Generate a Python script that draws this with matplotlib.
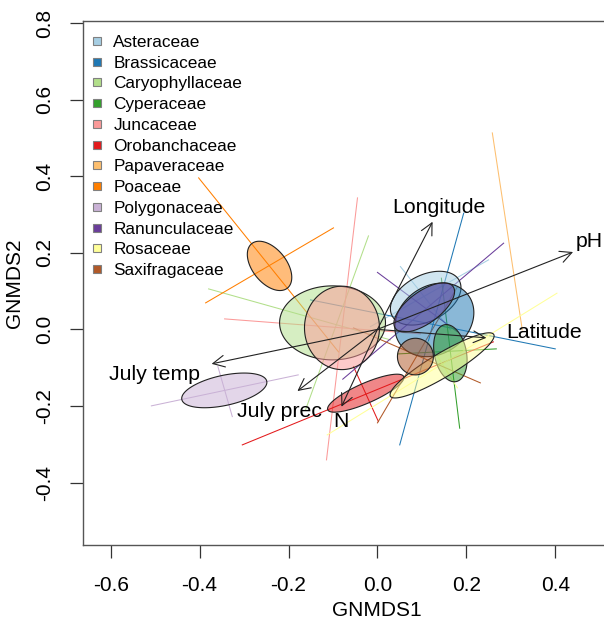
import numpy as np
import matplotlib
matplotlib.use("Agg")
import matplotlib.pyplot as plt
from matplotlib.lines import Line2D
from matplotlib.patches import Polygon
from matplotlib.colors import to_rgba

plt.rcParams['font.family'] = ['Liberation Sans', 'DejaVu Sans']

# ---------------- data ----------------
families = ["Asteraceae", "Brassicaceae", "Caryophyllaceae", "Cyperaceae",
            "Juncaceae", "Orobanchaceae", "Papaveraceae", "Poaceae",
            "Polygonaceae", "Ranunculaceae", "Rosaceae", "Saxifragaceae"]
colors = ["#A6CEE3", "#1F78B4", "#B2DF8A", "#33A02C", "#FB9A99", "#E31A1C",
          "#FDBF6F", "#FF7F00", "#CAB2D6", "#6A3D9A", "#FFFF99", "#B15928"]

# ellipse centres (GNMDS1, GNMDS2)
center_x = [0.1085, 0.128, -0.101, 0.164, -0.0798, -0.0263, np.nan, -0.2427, -0.3445, 0.1052, 0.1454, 0.0854]
center_y = [0.0815, 0.0248, 0.017, -0.0621, 0.0039, -0.1666, np.nan, 0.1658, -0.1593, 0.0574, -0.094, -0.071]
# ellipse semi-axis vectors (data units)
axis1_dx = [0.0757, 0.0773, 0.1191, 0.013, 0.0843, 0.0854, np.nan, 0.0402, 0.0955, 0.0649, 0.1162, 0.0404]
axis1_dy = [0.0457, 0.0629, 0.0, -0.0742, 0.0, 0.0434, np.nan, -0.058, 0.024, 0.0545, 0.0807, 0.0]
axis2_dx = [0.0238, 0.0438, 0.0, 0.0353, 0.0, 0.009, np.nan, 0.0297, 0.0072, 0.0211, 0.0139, 0.0]
axis2_dy = [-0.0533, -0.0726, -0.0966, 0.0084, 0.1089, -0.024, np.nan, 0.0279, -0.0384, -0.0339, -0.0269, 0.0478]

# spread segments (x0, y0, x1, y1) per family
segment1 = [(0.0517, 0.164, 0.164, -0.0013),
            (0.194, 0.3034, 0.0501, -0.3016),
            (-0.3798, 0.1057, 0.0292, -0.0274),
            (0.1438, 0.1337, 0.185, -0.258),
            (-0.3438, 0.0274, 0.0966, -0.0117),
            (-0.304, -0.3016, 0.2607, -0.0326),
            (0.2584, 0.513, 0.3258, -0.0013),
            (-0.4022, 0.3956, -0.0876, -0.0587),
            (-0.5085, -0.1997, -0.1782, -0.1188),
            (0.0, 0.1488, 0.1798, -0.0065),
            (0.4038, 0.0945, -0.113, -0.2755),
            (0.0, -0.2441, 0.1798, 0.111)]
segment2 = [(0.250, 0.1815, -0.0157, 0.0073),
            (-0.1506, 0.077, 0.400, -0.0509),
            (-0.0202, 0.2441, -0.1618, -0.2102),
            (0.0472, -0.064, 0.2674, -0.0509),
            (-0.0449, 0.3433, -0.1146, -0.3407),
            (-0.0539, -0.0971, 0.0022, -0.2407),
            None,
            (-0.3865, 0.0692, -0.0989, 0.265),
            (-0.3589, -0.0971, -0.3265, -0.2277),
            (0.2838, 0.2251, -0.078, -0.130),
            (0.1146, -0.0326, 0.1798, -0.1527),
            (-0.0539, 0.0039, 0.2315, -0.1397)]

# environmental vectors
env_names = ["Longitude", "pH", "Latitude", "July temp", "July prec", "N"]
env_x = [0.124, 0.440, 0.245, -0.373, -0.180, -0.081]
env_y = [0.281, 0.202, -0.022, -0.090, -0.161, -0.202]

# ---------------- figure ----------------
W, H = 604, 623
fig = plt.figure(figsize=(W / 100, H / 100), dpi=100)
ax = fig.add_axes([82.7 / W, 1 - 545 / H, 588.6 / W, 524.3 / H])
ax.set_xlim(-0.663, 0.661)
ax.set_ylim(-0.563, 0.806)

# spread lines
for i, c in enumerate(colors):
    for seg in (segment1[i], segment2[i]):
        if seg is None:
            continue
        ax.plot([seg[0], seg[2]], [seg[1], seg[3]], color=c, lw=0.75, zorder=1)

# ellipses
t = np.linspace(0, 2 * np.pi, 240)
for i, c in enumerate(colors):
    if np.isnan(center_x[i]):
        continue
    ex = center_x[i] + axis1_dx[i] * np.cos(t) + axis2_dx[i] * np.sin(t)
    ey = center_y[i] + axis1_dy[i] * np.cos(t) + axis2_dy[i] * np.sin(t)
    poly = Polygon(np.column_stack([ex, ey]), closed=True,
                   facecolor=to_rgba(c, 0.52), edgecolor='#222222', lw=0.8, zorder=2)
    ax.add_patch(poly)

# arrows
for name, x, y in zip(env_names, env_x, env_y):
    ax.annotate('', xy=(x, y), xytext=(0, 0),
                arrowprops=dict(arrowstyle='->,head_length=0.7,head_width=0.35',
                                color='#222222', lw=0.8, shrinkA=0, shrinkB=0,
                                mutation_scale=12), zorder=4)

label_pos = {"Longitude": (0.139, 0.317), "pH": (0.4775, 0.2285),
             "Latitude": (0.376, -0.009), "July temp": (-0.501, -0.119),
             "July prec": (-0.220, -0.2154), "N": (-0.081, -0.240)}
for name in env_names:
    lx, ly = label_pos[name]
    ax.text(lx, ly, name, fontsize=15.3, ha='center', va='center', color='black', zorder=5)

# axes styling
for s in ax.spines.values():
    s.set_color('#555555')
    s.set_linewidth(1.0)
ax.set_xticks([-0.6, -0.4, -0.2, 0.0, 0.2, 0.4])
ax.set_xticklabels(["-0.6", "-0.4", "-0.2", "0.0", "0.2", "0.4"])
ax.set_yticks([-0.4, -0.2, 0.0, 0.2, 0.4, 0.6, 0.8])
ax.set_yticklabels(["-0.4", "-0.2", "0.0", "0.2", "0.4", "0.6", "0.8"],
                   rotation=90, va='center')
ax.tick_params(axis='both', direction='out', length=9.5, width=0.9,
               color='#333333', labelsize=15)
ax.tick_params(axis='x', pad=13)
ax.tick_params(axis='y', pad=11)
ax.set_xlabel("GNMDS1", fontsize=15, labelpad=4)
ax.set_ylabel("GNMDS2", fontsize=15, labelpad=8)

# legend
handles = [Line2D([], [], marker='s', linestyle='none', markersize=6.2,
                  markerfacecolor=c, markeredgecolor='#808080', markeredgewidth=0.8)
           for c in colors]
ax.legend(handles, families, loc='upper left', bbox_to_anchor=(0.0090, 0.973),
          frameon=False, fontsize=12.4, handlelength=1.0, handletextpad=0.47,
          labelspacing=0.33, borderpad=0, borderaxespad=0)

fig.savefig("out.png", dpi=100)
